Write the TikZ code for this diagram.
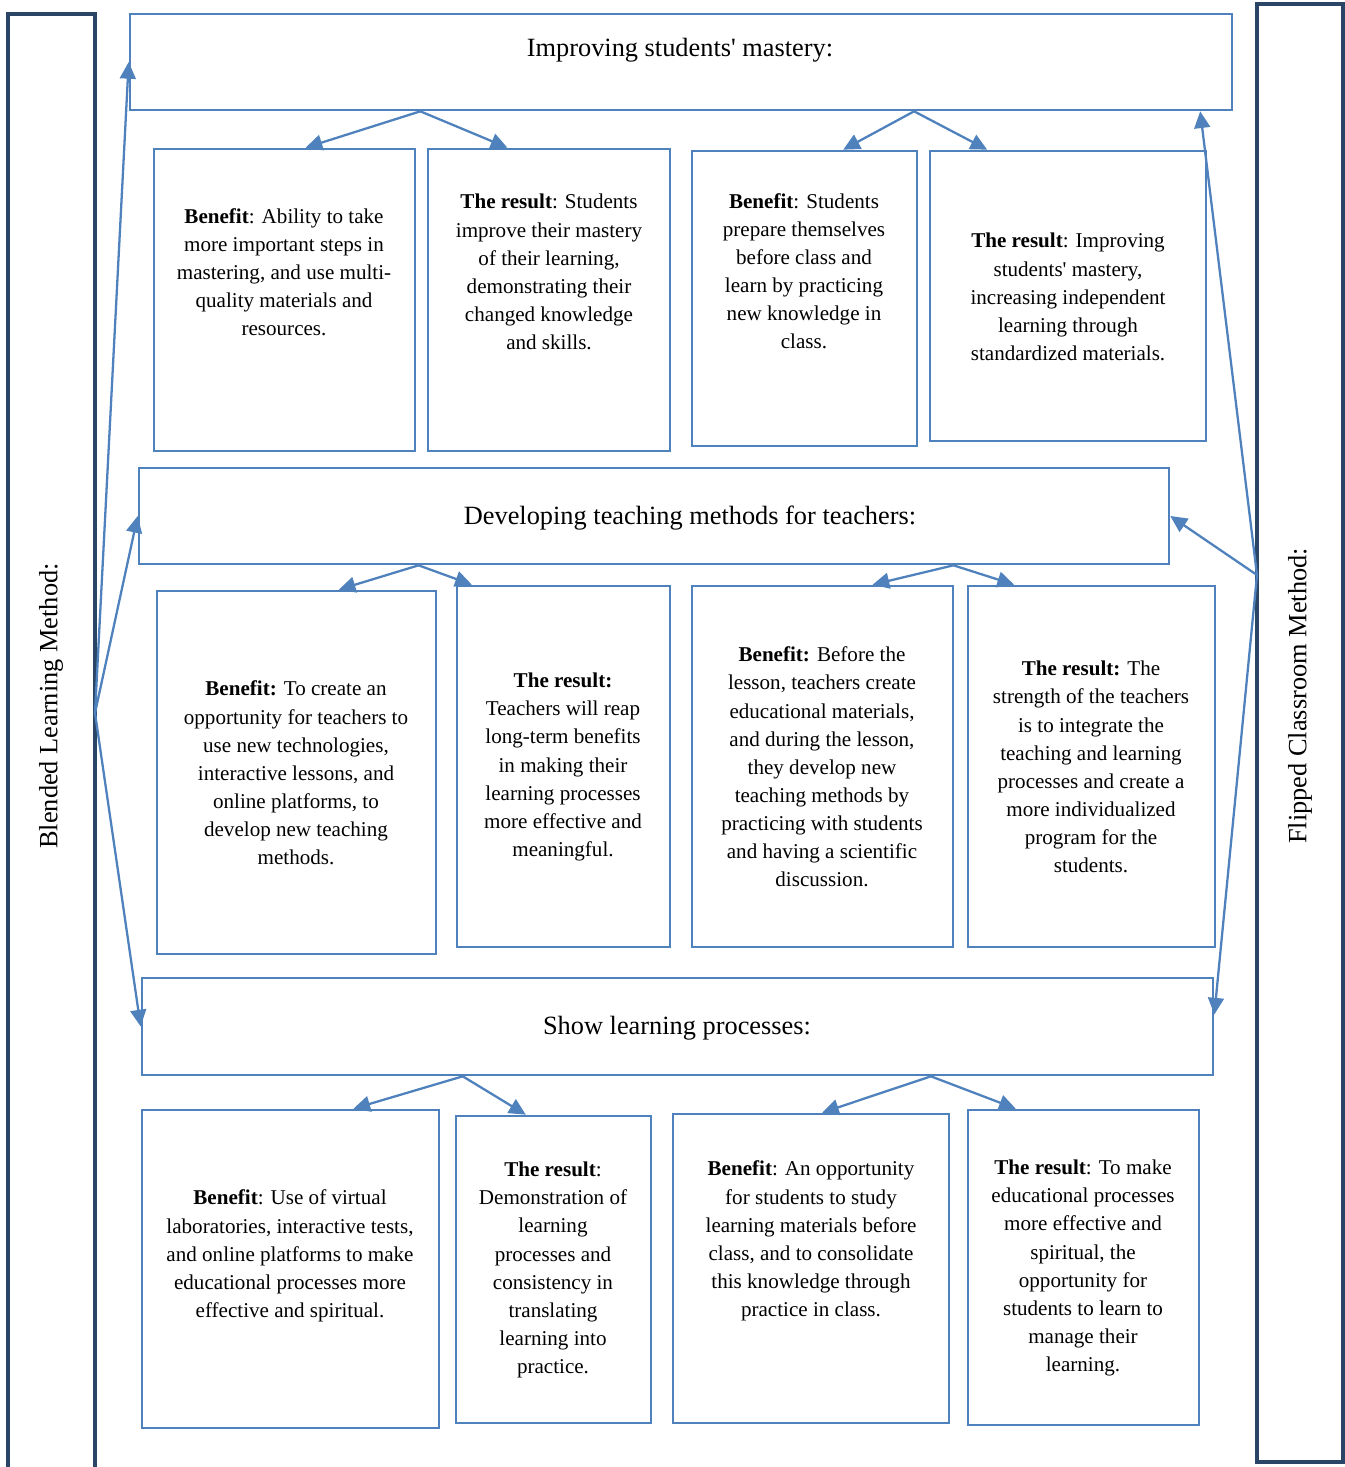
\documentclass[tikz,border=0pt]{standalone}
\usepackage{fontspec}
\setmainfont{Liberation Serif}
\usetikzlibrary{arrows.meta,fit,calc}
\definecolor{boxblue}{HTML}{4F81BD}
\definecolor{barnavy}{HTML}{2B4566}
\tikzset{
    box/.style={draw=boxblue,line width=1.5pt,inner sep=0pt},
    bar/.style={draw=barnavy,line width=1.8pt,inner sep=0pt},
    txt/.style={align=center,font=\fontsize{12}{16}\selectfont},
    head/.style={font=\fontsize{15}{18}\selectfont},
    edge/.style={draw=boxblue,line width=1.3pt,-{Triangle[length=9.5pt,width=9pt]}}
}

\begin{document}
\begin{tikzpicture}[x=0.02cm,y=-0.02cm]
\clip (0,0) rectangle (1345,1467);

% side bars
\node[bar,fit={(8,14) (95,1490)}] (lbar) {};
\node[head,rotate=90] (ltxt) at (51,706) {Blended Learning Method:};
\node[bar,fit={(1257,4) (1343,1462)}] (rbar) {};
\node[head,rotate=90] (rtxt) at (1300,696) {Flipped Classroom Method:};
\coordinate (lhub) at (95,713);
\coordinate (rhub) at (1257,575);

% headings
\node[box,fit={(130,14) (1232,110)}] (h1) {};
\node[head] (h1t) at (680,50) {Improving students\textquotesingle\ mastery:};
\node[box,fit={(139,468) (1169,564)}] (h2) {};
\node[head] (h2t) at (690,518) {Developing teaching methods for teachers:};
\node[box,fit={(142,978) (1213,1075)}] (h3) {};
\node[head] (h3t) at (677,1028) {Show learning processes:};

% first row
\node[box,fit={(154,149) (415,451)}] (b1) {};
\node[txt] (b1t) at (284,272) {\textbf{Benefit}: Ability to take\\more important steps in\\mastering, and use multi-\\quality materials and\\resources.};
\node[box,fit={(428,149) (670,451)}] (b2) {};
\node[txt] (b2t) at (549,272) {\textbf{The result}: Students\\improve their mastery\\of their learning,\\demonstrating their\\changed knowledge\\and skills.};
\node[box,fit={(692,151) (917,446)}] (b3) {};
\node[txt] (b3t) at (804,271) {\textbf{Benefit}: Students\\prepare themselves\\before class and\\learn by practicing\\new knowledge in\\class.};
\node[box,fit={(930,151) (1206,441)}] (b4) {};
\node[txt] (b4t) at (1068,297) {\textbf{The result}: Improving\\students\textquotesingle\ mastery,\\increasing independent\\learning through\\standardized materials.};

% second row
\node[box,fit={(157,591) (436,954)}] (c1) {};
\node[txt] (c1t) at (296,773) {\textbf{Benefit:} To create an\\opportunity for teachers to\\use new technologies,\\interactive lessons, and\\online platforms, to\\develop new teaching\\methods.};
\node[box,fit={(457,586) (670,947)}] (c2) {};
\node[txt] (c2t) at (563,767) {\textbf{The result:}\\Teachers will reap\\long-term benefits\\in making their\\learning processes\\more effective and\\meaningful.};
\node[box,fit={(692,586) (953,947)}] (c3) {};
\node[txt] (c3t) at (822,767) {\textbf{Benefit:} Before the\\lesson, teachers create\\educational materials,\\and during the lesson,\\they develop new\\teaching methods by\\practicing with students\\and having a scientific\\discussion.};
\node[box,fit={(968,586) (1215,947)}] (c4) {};
\node[txt] (c4t) at (1091,767) {\textbf{The result:} The\\strength of the teachers\\is to integrate the\\teaching and learning\\processes and create a\\more individualized\\program for the\\students.};

% third row
\node[box,fit={(142,1110) (439,1428)}] (d1) {};
\node[txt] (d1t) at (290,1256) {\textbf{Benefit}: Use of virtual\\laboratories, interactive tests,\\and online platforms to make\\educational processes more\\effective and spiritual.};
\node[box,fit={(456,1116) (651,1423)}] (d2) {};
\node[txt] (d2t) at (553,1270) {\textbf{The result}:\\Demonstration of\\learning\\processes and\\consistency in\\translating\\learning into\\practice.};
\node[box,fit={(673,1114) (949,1423)}] (d3) {};
\node[txt] (d3t) at (811,1241) {\textbf{Benefit}: An opportunity\\for students to study\\learning materials before\\class, and to consolidate\\this knowledge through\\practice in class.};
\node[box,fit={(968,1110) (1199,1425)}] (d4) {};
\node[txt] (d4t) at (1083,1268) {\textbf{The result}: To make\\educational processes\\more effective and\\spiritual, the\\opportunity for\\students to learn to\\manage their\\learning.};

% split points under the headings
\coordinate (h1l) at ($(h1.south west)!0.264!(h1.south east)$);
\coordinate (h1r) at ($(h1.south west)!0.711!(h1.south east)$);
\coordinate (h2l) at ($(h2.south west)!0.272!(h2.south east)$);
\coordinate (h2r) at ($(h2.south west)!0.790!(h2.south east)$);
\coordinate (h3l) at ($(h3.south west)!0.300!(h3.south east)$);
\coordinate (h3r) at ($(h3.south west)!0.736!(h3.south east)$);

\draw[edge] (lhub) -- (h1.west);
\draw[edge] (lhub) -- (h2.west);
\draw[edge] (lhub) -- (h3.west);
\draw[edge] (rhub) -- ($(h1.south west)!0.97!(h1.south east)$);
\draw[edge] (rhub) -- (h2.east);
\draw[edge] (rhub) -- ($(h3.north east)!0.38!(h3.south east)$);

\draw[edge] (h1l) -- ($(b1.north west)!0.58!(b1.north east)$);
\draw[edge] (h1l) -- ($(b2.north west)!0.33!(b2.north east)$);
\draw[edge] (h1r) -- ($(b3.north west)!0.67!(b3.north east)$);
\draw[edge] (h1r) -- ($(b4.north west)!0.21!(b4.north east)$);
\draw[edge] (h2l) -- ($(c1.north west)!0.65!(c1.north east)$);
\draw[edge] (h2l) -- ($(c2.north west)!0.075!(c2.north east)$);
\draw[edge] (h2r) -- ($(c3.north west)!0.69!(c3.north east)$);
\draw[edge] (h2r) -- ($(c4.north west)!0.19!(c4.north east)$);
\draw[edge] (h3l) -- ($(d1.north west)!0.71!(d1.north east)$);
\draw[edge] (h3l) -- ($(d2.north west)!0.36!(d2.north east)$);
\draw[edge] (h3r) -- ($(d3.north west)!0.54!(d3.north east)$);
\draw[edge] (h3r) -- ($(d4.north west)!0.21!(d4.north east)$);

\end{tikzpicture}
\end{document}
